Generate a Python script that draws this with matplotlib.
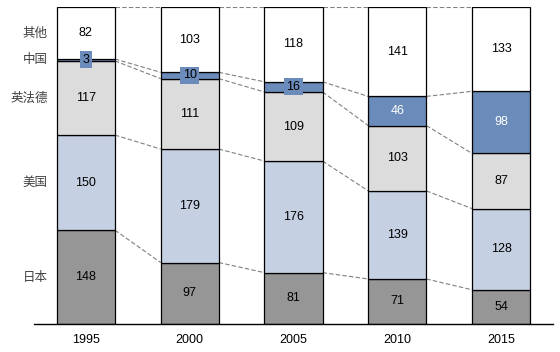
import numpy as np
import matplotlib.pyplot as plt

plt.rcParams['font.family'] = ['Liberation Sans', 'Noto Sans CJK SC', 'DejaVu Sans']

years = ['1995', '2000', '2005', '2010', '2015']
groups = ['日本', '美国', '英法德', '中国', '其他']
japan = [148, 97, 81, 71, 54]
usa = [150, 179, 176, 139, 128]
europe = [117, 111, 109, 103, 87]
china = [3, 10, 16, 46, 98]
other = [82, 103, 118, 141, 133]

colors = ['#969696', '#c5d0e3', '#dcdcdc', '#6b8cbb', '#ffffff']
series = [japan, usa, europe, china, other]

fig = plt.figure(figsize=(5.6, 3.52), dpi=100)
ax = fig.add_axes([34 / 560, 28 / 352, 519 / 560, 317 / 352])

x = np.arange(len(years))
width = 0.56
bottoms = np.zeros(len(years))
tops = []
for vals, col in zip(series, colors):
    vals = np.array(vals, dtype=float)
    ax.bar(x, vals, width, bottom=bottoms, color=col, edgecolor='black',
           linewidth=0.9, zorder=2)
    bottoms = bottoms + vals
    tops.append(bottoms.copy())

# value labels
bottoms = np.zeros(len(years))
for k, vals in enumerate(series):
    for i, v in enumerate(vals):
        yc = bottoms[i] + v / 2
        if k == 3:
            if v < 30:
                ax.text(x[i], yc, str(v), ha='center', va='center', fontsize=9,
                        color='black', zorder=4,
                        bbox=dict(boxstyle='square,pad=0.2', fc=colors[3], ec='none'))
            else:
                ax.text(x[i], yc, str(v), ha='center', va='center', fontsize=9,
                        color='white', zorder=4)
        else:
            ax.text(x[i], yc, str(v), ha='center', va='center', fontsize=9,
                    color='black', zorder=4)
    bottoms = bottoms + np.array(vals)

# dashed connectors between bars
for lev in tops:
    for i in range(len(years) - 1):
        ax.plot([x[i] + width / 2, x[i + 1] - width / 2], [lev[i], lev[i + 1]],
                color='#808080', linestyle=(0, (4, 2)), linewidth=0.8, zorder=1)

# group labels on the left, at the centres of the first bar
b = 0
for name, vals in zip(groups, series):
    ax.text(-0.37, b + vals[0] / 2, name, ha='right', va='center', fontsize=9,
            color='#404040', family=['Noto Sans CJK SC', 'DejaVu Sans'])
    b += vals[0]

ax.set_xlim(-0.5, 4.5)
ax.set_ylim(0, 500)
ax.set_xticks(x)
ax.set_xticklabels(years, fontsize=9)
ax.tick_params(axis='x', length=0, pad=7)
ax.set_yticks([])
for s in ['top', 'right', 'left']:
    ax.spines[s].set_visible(False)
ax.spines['bottom'].set_linewidth(1.0)

fig.savefig('out.png', dpi=100)
